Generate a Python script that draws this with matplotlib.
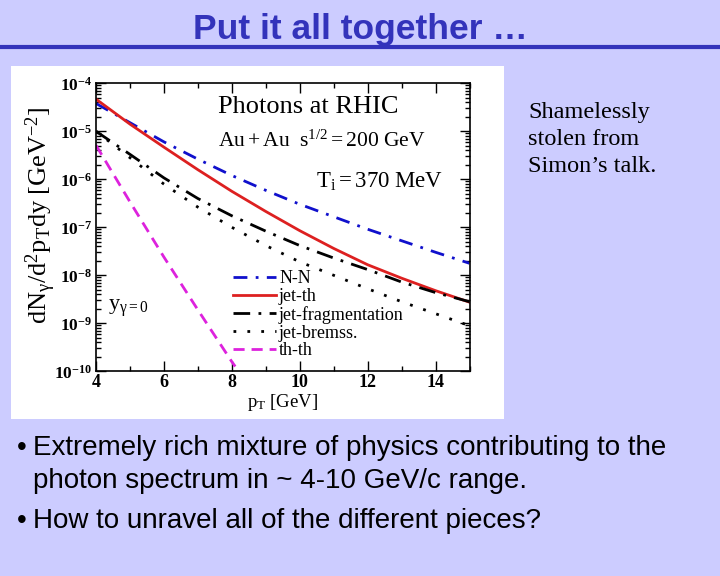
import matplotlib
matplotlib.use("Agg")
import matplotlib.pyplot as plt
from matplotlib.patches import Rectangle
from matplotlib.lines import Line2D
from matplotlib.ticker import FixedLocator, LogLocator, NullFormatter
import numpy as np

# values (log10 of dN/d2pT dy)
pt = [4, 5, 6, 7, 8, 9, 10, 11, 12, 13, 14, 15]
nn_log = [-4.42, -4.82, -5.22, -5.58, -5.92, -6.23, -6.52, -6.78, -7.04, -7.28, -7.52, -7.75]
jet_th_log = [-4.33, -4.85, -5.33, -5.80, -6.25, -6.67, -7.07, -7.44, -7.78, -8.06, -8.32, -8.56]
jet_frag_log = [-5.00, -5.48, -5.97, -6.40, -6.76, -7.08, -7.38, -7.64, -7.88, -8.14, -8.36, -8.55]
jet_brem_log = [-5.00, -5.55, -6.10, -6.58, -7.00, -7.38, -7.72, -8.00, -8.28, -8.55, -8.80, -9.05]
thth_pt = [4, 5, 6, 7, 8, 8.1]
thth_log = [-5.29, -6.47, -7.62, -8.72, -9.80, -9.90]

labels = ["N-N", "jet-th", "jet-fragmentation", "jet-bremss.", "th-th"]
xticks = [4, 6, 8, 10, 12, 14]
ydecades = [-10, -9, -8, -7, -6, -5, -4]

plt.rcParams['mathtext.fontset'] = 'custom'
plt.rcParams['mathtext.rm'] = 'Liberation Serif'
plt.rcParams['mathtext.it'] = 'Liberation Serif:italic'
plt.rcParams['mathtext.bf'] = 'Liberation Serif:bold'

W, H = 720, 576
bg = '#CCCCFF'
blue_title = '#3333BB'

fig = plt.figure(figsize=(7.2, 5.76), dpi=100, facecolor=bg)

def fx(px):
    return px / W

def fy(py):
    return 1 - py / H

# title and rule
fig.text(0.5, fy(29), "Put it all together \u2026", ha='center', va='center',
         fontsize=25.5, fontweight='bold', color=blue_title, family='Liberation Sans')
fig.add_artist(Line2D([0, 1], [fy(47), fy(47)], color=blue_title, lw=3))

# white panel behind the chart
fig.add_artist(Rectangle((fx(11), fy(419)), fx(504) - fx(11), fy(66) - fy(419),
                         facecolor='white', edgecolor='none', zorder=0))

ax = fig.add_axes([fx(96), fy(371.3), fx(469.5) - fx(96), fy(83.3) - fy(371.3)])
ax.set_facecolor('white')

lw = 2.0
ax.plot(pt, 10 ** np.array(nn_log), color='#1010CC', lw=lw, dashes=(5, 3, 1, 3), label=labels[0])
ax.plot(pt, 10 ** np.array(jet_th_log), color='#DD2020', lw=lw, label=labels[1])
ax.plot(pt, 10 ** np.array(jet_frag_log), color='black', lw=lw, dashes=(6, 3, 1, 3), label=labels[2])
ax.plot(pt, 10 ** np.array(jet_brem_log), color='black', lw=lw, dashes=(1, 4), label=labels[3])
ax.plot(thth_pt, 10 ** np.array(thth_log), color='#DD22DD', lw=lw, dashes=(4, 2.5), label=labels[4])

ax.set_yscale('log')
ax.set_xlim(4, 15)
ax.set_ylim(1e-10, 1e-4)

ax.xaxis.set_major_locator(FixedLocator(xticks))
ax.xaxis.set_minor_locator(FixedLocator([5, 7, 9, 11, 13, 15]))
ax.set_xticklabels([str(t) for t in xticks], fontsize=13, fontweight='bold', family='Liberation Serif')
ax.yaxis.set_major_locator(FixedLocator([10.0 ** d for d in ydecades]))
ax.yaxis.set_minor_locator(LogLocator(base=10, subs=np.arange(2, 10)))
ax.yaxis.set_minor_formatter(NullFormatter())
ax.set_yticklabels([r'$\mathbf{10^{%d}}$' % d for d in ydecades], fontsize=12.5)
ax.tick_params(which='both', direction='in', top=True, right=True, width=1.0)
ax.tick_params(which='major', length=7)
ax.tick_params(axis='x', which='major', pad=2)
ax.tick_params(axis='y', which='major', pad=3)
ax.tick_params(which='minor', length=3.5)
for s in ax.spines.values():
    s.set_linewidth(1.2)

ax.set_xlabel(r'$\mathrm{p_T\ [GeV]}$', fontsize=13.5)
ax.xaxis.set_label_coords((283 - 96) / 373.5, -(392 - 371.3) / 288, transform=ax.transAxes)
ax.set_ylabel(r'$\mathrm{dN_{\gamma}/d^2p_T dy\ [GeV^{-2}]}$', fontsize=19)
ax.yaxis.set_label_coords(-(96 - 58) / 373.5, (371.3 - 215) / 288, transform=ax.transAxes)

fig.text(fx(218), fy(113), "Photons at RHIC", fontsize=19, family='Liberation Serif', va='baseline')
fig.text(fx(218), fy(147), r'$\mathrm{Au + Au\ \ s^{1/2} = 200\ GeV}$', fontsize=15.5, va='baseline')
fig.text(fx(316), fy(188), r'$\mathrm{T_i = 370\ MeV}$', fontsize=16.5, va='baseline')
fig.text(fx(108), fy(310), r'$\mathrm{y_{\gamma = 0}}$', fontsize=16, va='baseline')

ax.legend(loc='upper left', bbox_to_anchor=((233 - 96) / 373.5, (371.3 - 270) / 288),
          frameon=False, prop={'family': 'Liberation Serif', 'size': 13},
          handlelength=2.4, handletextpad=0.15, labelspacing=0.05, borderpad=0, borderaxespad=0)

# side note
fig.text(fx(528), fy(102), "Shamelessly\nstolen from\nSimon\u2019s talk.", fontsize=17.5,
         family='Liberation Serif', va='top', ha='left', linespacing=1.38)

# bullets
bfont = dict(fontsize=20, family='Liberation Sans', va='center')
fig.text(fx(17), fy(448), "\u2022", **bfont)
fig.text(fx(33), fy(448), "Extremely rich mixture of physics contributing to the", **bfont)
fig.text(fx(33), fy(481), "photon spectrum in ~ 4-10 GeV/c range.", **bfont)
fig.text(fx(17), fy(521), "\u2022", **bfont)
fig.text(fx(33), fy(521), "How to unravel all of the different pieces?", **bfont)

fig.savefig('out.png', dpi=100, facecolor=bg)
